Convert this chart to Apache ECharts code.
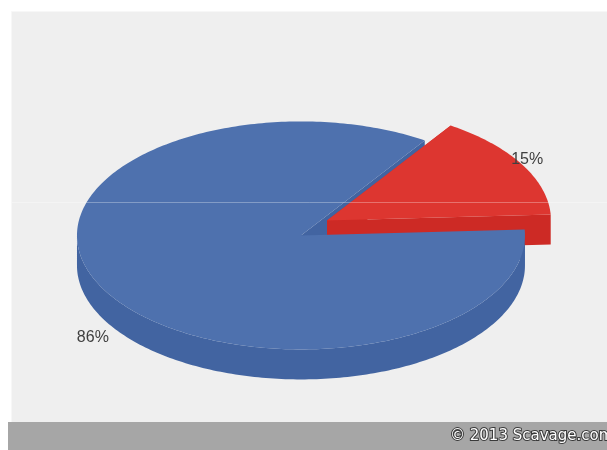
<!DOCTYPE html>
<html>
<head>
<meta charset="utf-8">
<script src="https://cdn.jsdelivr.net/npm/echarts@6/dist/echarts.min.js"></script>
<style>
  html, body { margin: 0; padding: 0; background: #fff; }
  #chart { width: 607px; height: 450px; }
</style>
</head>
<body>
<div id="chart"></div>
<script>
// data
const categories = ['Slice A', 'Slice B'];
const values = [86, 15];
const labelTexts = ['86%', '15%'];

// look of the fake 3d pie
const topColors = ['#4e71ae', '#dd3630'];
const sideColors = ['#4264a1', '#cd2a25'];
const CX = 314, CY = 228, RX = 224, RY = 114, DEPTH = 30;
const EXPLODE = 15;
const START = -3; // degrees, clockwise on screen
const D2R = Math.PI / 180;

document.addEventListener('DOMContentLoaded', function () {
    const chart = echarts.init(document.getElementById('chart'));
    const total = values.reduce((a, b) => a + b, 0);

    function renderItem(params, api) {
        const i = params.dataIndex;
        let start = START;
        for (let k = 0; k < i; k++) start += values[k] / total * 360;
        const end = start + api.value(0) / total * 360;
        const mid = (start + end) / 2 * D2R;
        const cx = CX + EXPLODE * Math.cos(mid);
        const cy = CY + EXPLODE * Math.sin(mid);
        const pt = (deg, dy) => [cx + RX * Math.cos(deg * D2R), cy + RY * Math.sin(deg * D2R) + (dy || 0)];
        const arc = (a, b, dy) => {
            const out = [];
            for (let a1 = a; a1 < b; a1 += 1) out.push(pt(a1, dy));
            out.push(pt(b, dy));
            return out;
        };
        const base = Math.round((Math.sin(mid) + 1) * 50) * 10 + 10;
        const children = [];

        // cut faces along the two radii (always behind the tops)
        [start, end].forEach(a => {
            children.push({
                type: 'polygon',
                shape: { points: [[cx, cy], pt(a), pt(a, DEPTH), [cx, cy + DEPTH]] },
                style: { fill: sideColors[i] },
                z2: i
            });
        });

        // outer wall, front half only
        [-360, 0, 360].forEach(k => {
            const lo = Math.max(start, k), hi = Math.min(end, k + 180);
            if (hi > lo) {
                const pts = arc(lo, hi, 0).concat(arc(lo, hi, DEPTH).reverse());
                children.push({
                    type: 'polygon',
                    shape: { points: pts },
                    style: { fill: sideColors[i] },
                    z2: base + 1
                });
            }
        });

        // top face
        children.push({
            type: 'polygon',
            shape: { points: [[cx, cy]].concat(arc(start, end, 0)) },
            style: { fill: topColors[i] },
            z2: base + 2
        });

        // label
        const k = 1.07;
        const front = Math.sin(mid) > 0;
        children.push({
            type: 'text',
            x: cx + RX * k * Math.cos(mid) - (front ? 0 : 8),
            y: cy + RY * k * Math.sin(mid) + (front ? DEPTH * 1.4 : 0),
            style: {
                text: labelTexts[i],
                fill: '#404040',
                font: '16px "Liberation Sans", Arial, sans-serif',
                align: 'center',
                verticalAlign: 'middle'
            },
            z2: 2000
        });

        return { type: 'group', children: children };
    }

    const option = {
        backgroundColor: '#ffffff',
        animation: false,
        graphic: [
            {
                type: 'rect', left: 11, top: 11, z: 0,
                shape: { width: 600, height: 411 },
                style: { fill: '#efefef', stroke: '#f7f7f7', lineWidth: 1 }
            },
            {
                type: 'line', z: 100,
                shape: { x1: 12, y1: 202.5, x2: 607, y2: 202.5 },
                style: { stroke: 'rgba(255,255,255,0.3)', lineWidth: 1 }
            },
            {
                type: 'rect', left: 8, top: 422, z: 1,
                shape: { width: 600, height: 28 },
                style: { fill: '#a6a6a6' }
            },
            {
                type: 'text', left: 449, top: 428, z: 2,
                style: {
                    text: '\u00a9 2013 Scavage.com',
                    fill: '#ffffff',
                    stroke: '#3a3a3a',
                    lineWidth: 2,
                    font: '15px "DejaVu Sans", sans-serif'
                }
            }
        ],
        series: [{
            type: 'custom',
            coordinateSystem: 'none',
            renderItem: renderItem,
            data: values.map((v, i) => ({ name: categories[i], value: v }))
        }]
    };
    chart.setOption(option);
});
</script>
</body>
</html>
